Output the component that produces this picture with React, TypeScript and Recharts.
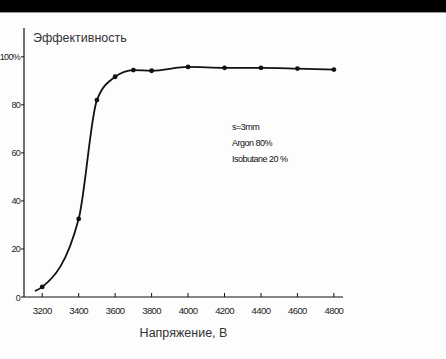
import { LineChart, Line, XAxis, YAxis, Label } from "recharts";

// voltage (V) and detection efficiency (%)
const volts = [3160, 3200, 3400, 3500, 3600, 3700, 3800, 4000, 4200, 4400, 4600, 4800];
const efficiency = [2.5, 4.2, 32.5, 82, 91.7, 94.5, 94.2, 95.8, 95.4, 95.4, 95.1, 94.7];
const xTicks = [3200, 3400, 3600, 3800, 4000, 4200, 4400, 4600, 4800];
const yTicks = [0, 20, 40, 60, 80, 100];
const notes = ["s=3mm", "Argon 80%", "Isobutane 20 %"];

const data = volts.map((v, i) => ({ v, e: efficiency[i] }));

const narrow = "'Liberation Sans', Arial, sans-serif";
const plain = "'Liberation Sans', Arial, sans-serif";

const XTick = ({ x, y, payload }: any) => (
  <g>
    <line x1={x} x2={x} y1={y} y2={y - 4} stroke="#111" strokeWidth={1} />
    <text x={x} y={y + 17} textAnchor="middle" fontSize={9.5} letterSpacing={-0.6} fontFamily={narrow} fill="#222">
      {payload.value}
    </text>
  </g>
);

const YTick = ({ x, y, payload }: any) => (
  <text x={x} y={y + 3.5} textAnchor="end" fontSize={9} letterSpacing={-0.7} fontFamily={narrow} fill="#222">
    {payload.value === 100 ? "100%" : payload.value}
  </text>
);

export default function App() {
  return (
    <div style={{ position: "absolute", left: 0, top: 0, width: 446, height: 359, overflow: "hidden", background: "#fdfdfd" }}>
      <style>{"html,body{margin:0;padding:0;background:#fdfdfd;overflow:hidden}"}</style>
      <div style={{ position: "absolute", left: 0, top: 0, width: 446, height: 12, background: "#000", borderBottom: "1px solid #999" }} />
      <LineChart
        width={446}
        height={359}
        data={data}
        margin={{ top: 28, right: 103, left: 0, bottom: 0 }}
      >
        <XAxis
          type="number"
          dataKey="v"
          domain={[3100, 4850]}
          ticks={xTicks}
          interval={0}
          allowDataOverflow
          height={62}
          tickSize={0}
          tickMargin={0}
          tickLine={false}
          tick={<XTick />}
          axisLine={{ stroke: "#111", strokeWidth: 1.2 }}
        >
          <Label
            value="Напряжение, В"
            position="insideBottom"
            offset={22}
            style={{ fontSize: 12.5, fontFamily: plain, fill: "#333" }}
          />
        </XAxis>
        <YAxis
          type="number"
          domain={[0, 112]}
          ticks={yTicks}
          interval={0}
          width={24}
          tickSize={3}
          tickMargin={1}
          tickLine={{ stroke: "#111" }}
          axisLine={{ stroke: "#111", strokeWidth: 1.2 }}
          tick={<YTick />}
        >
          <Label
            content={({ viewBox }: any) => (
              <text x={viewBox.x + viewBox.width + 9} y={viewBox.y + 14} fontSize={12.5} fontFamily={plain} fill="#333">
                Эффективность
              </text>
            )}
          />
        </YAxis>
        <Line
          type="monotone"
          dataKey="e"
          stroke="#111"
          strokeWidth={1.8}
          isAnimationActive={false}
          activeDot={false}
          dot={({ cx, cy, index }: any) =>
            index === 0 ? (
              <g key={`d-${index}`} />
            ) : (
              <circle key={`d-${index}`} cx={cx} cy={cy} r={2.4} fill="#111" />
            )
          }
        />
      </LineChart>
      <div style={{ position: "absolute", left: 232, top: 119, fontFamily: narrow, fontSize: 9, letterSpacing: -0.5, color: "#111", lineHeight: "16px" }}>
        {notes.map((n) => (
          <div key={n}>{n}</div>
        ))}
      </div>
    </div>
  );
}
